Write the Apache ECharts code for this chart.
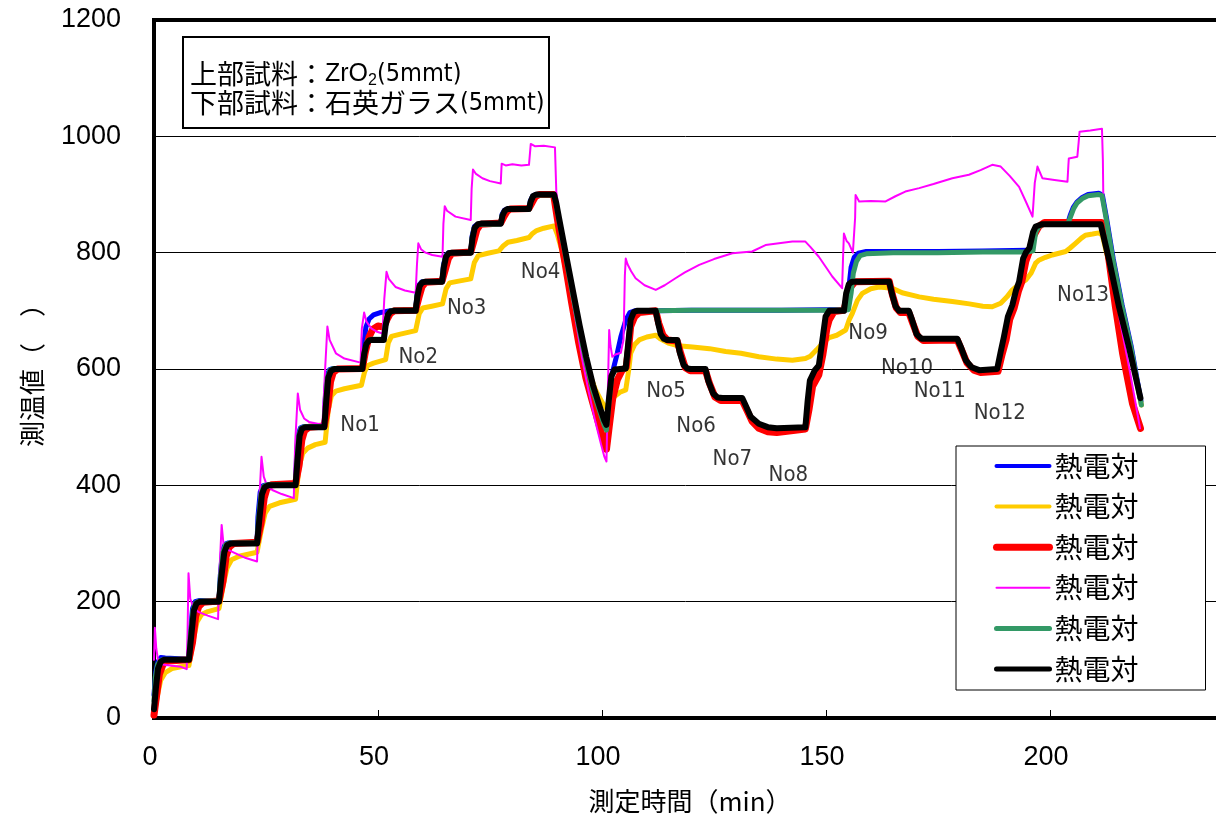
<!DOCTYPE html>
<html>
<head>
<meta charset="utf-8">
<script src="https://cdn.jsdelivr.net/npm/echarts@6/dist/echarts.min.js"></script>
<style>
  html, body { margin: 0; padding: 0; background: #ffffff; }
  #chart { width: 1216px; height: 827px; }
</style>
</head>
<body>
<div id="chart"></div>
<script>
// ---- axis settings ----
const xMin = 0, xMax = 250, xStep = 50;
const yMin = 0, yMax = 1200, yStep = 200;

// ---- thermocouple traces: [time (min), temperature] ----
const blueData = [
  [0,40],[0.4,80],[0.9,97],[1.5,104],[2.5,103],[7.8,101],
  [8.1,145],[8.6,188],[9.2,200],[10,202],[14.5,201],
  [14.8,245],[15.3,288],[15.9,299],[16.6,301],[23,301],
  [23.2,345],[23.7,388],[24.3,399],[25,401],[31.6,401],
  [31.8,445],[32.2,488],[32.7,499],[33.4,501],[38,501],
  [38.2,545],[38.6,588],[39.2,599],[40,601],[46.5,601],
  [46.8,640],[47.3,672],[48,686],[49,693],[50.5,697],[51.3,698],[52.5,700],[58.4,701],
  [58.7,728],[59.2,745],[59.8,750],[64.3,750],
  [64.6,778],[65.1,795],[65.7,800],[70.7,800],
  [71,828],[71.5,845],[72.2,849],[77.4,849],
  [77.7,866],[78.2,873],[78.8,875],[83.7,875],
  [84,889],[84.5,897],[85.2,900],[89.3,900],
  [89.8,883],[90.4,856],[92,790],[93.5,728],[95,667],[96.5,612],[98,564],[99.5,528],[100.5,504],[101,497],
  [101.5,545],[102.2,590],[103.4,627],[104.2,655],[105.3,684],[106.2,697],[107.3,700],
  [112,700],[120,701],[130,701],[140,701],[150,702],[154.6,702],
  [155.1,740],[155.6,775],[156.3,792],[157.2,799],[159,802],[165,802],[175,802],[185,803],[195,804],[196,806],
  [196.7,838],[197.4,846],[198.4,850],[204,851],
  [204.5,864],[205.2,878],[206,887],[207.2,895],[208.5,900],[210.9,902],[211.7,899],
  [212.6,860],[214.1,790],[216.1,710],[218.1,640],[220.3,545]
];

const yellowData = [
  [0,5],[0.8,40],[1.5,65],[2.5,78],[4,85],[6,88],[7.8,90],
  [8.8,135],[9.6,165],[10.6,178],[12,183],[14.5,188],
  [15.5,230],[16.3,258],[17.3,272],[19,278],[23,285],
  [24,325],[24.8,352],[25.8,364],[28,370],[31.6,376],
  [32.4,432],[33.2,455],[34.3,464],[36,470],[38.2,474],
  [38.9,530],[39.6,554],[40.6,562],[42.5,566],[46.3,572],
  [47,595],[47.7,606],[49,610],[51.7,616],
  [52.3,645],[53,656],[55,660],[58.4,666],
  [59.2,695],[60,705],[62,708],[64.4,712],
  [65.2,738],[66,748],[68,751],[70.7,755],
  [71.5,783],[72.4,795],[74.5,799],[77,803],
  [78,812],[79,818],[81,821],[83.7,826],
  [84.5,833],[85.4,838],[87,842],[89.3,846],
  [90,832],[91,805],[92.5,750],[94,690],[95.5,640],[97,597],[98.5,565],[100,543],[101.2,530],
  [102,535],[102.7,552],[104,560],[105.3,564],
  [106,600],[106.4,627],[107.3,642],[108.3,650],[110,655],[112,658],
  [113,652],[115,644],[117,640],[120.2,638],[124,635],[127.6,630],[131,627],[135,621],[139,617],[142.5,615],[145.4,618],
  [146.5,622],[147.9,633],[149.3,645],[150.7,654],[152.4,658],[154.4,667],
  [155.2,685],[155.9,696],[157,718],[158.1,730],[160,738],[161.8,741],[164.8,739],[167,731],[170.8,724],[174,720],[178.2,716],[182,712],[185,708],[187.1,707],
  [189,713],[190.4,724],[191.6,736],[193,745],[194.6,753],[195.8,765],[196.8,782],[197.5,787],[199,792],[200.5,796],[203.5,802],
  [204.5,808],[205.7,816],[207,825],[207.9,830],[209.5,832],[210.9,834],
  [211.7,830],[212.6,800],[214,760],[216,700],[218,630],[220.4,538]
];

const redData = [
  [0,5],[0.6,40],[1.2,75],[2,92],[3,98],[7.8,100],
  [8.6,130],[9.3,175],[10,192],[11,199],[14.5,201],
  [15.4,235],[16.1,278],[16.8,294],[17.8,300],[23,302],
  [23.9,335],[24.6,378],[25.2,394],[26.2,401],[31.6,403],
  [32.4,435],[33,478],[33.6,494],[34.6,500],[38,502],
  [38.8,535],[39.4,578],[40,594],[41,600],[46.5,601],
  [47.2,630],[48,655],[48.8,668],[50,674],[51.3,672],
  [52,685],[52.7,695],[53.6,700],[58.4,701],
  [59.1,722],[59.8,741],[60.6,749],[64.3,751],
  [65,770],[65.7,790],[66.5,799],[70.7,801],
  [71.4,820],[72.1,840],[72.9,849],[77.4,851],
  [78.1,862],[78.8,871],[79.5,875],[83.7,876],
  [84.4,886],[85.1,896],[86,900],[89.2,900],
  [89.6,880],[90.2,850],[91.8,780],[93.2,715],[94.8,645],[96.4,585],[98,540],[99.5,500],[100.6,470],[101,462],
  [101.6,500],[102.4,550],[103.4,581],[104.5,598],[105.4,603],
  [106,640],[106.4,673],[107.3,690],[108.3,697],[112,700],
  [112.7,678],[113.6,658],[114.6,650],[116.8,648],
  [117.6,626],[118.6,602],[119.7,597],[123.1,597],
  [124,575],[125.2,552],[126.5,546],[131.3,546],
  [132.4,528],[133.5,510],[135,498],[137,492],[139,491],[145.4,497],
  [146.2,530],[147,570],[148.4,590],[149.3,625],[150.2,670],[150.7,684],[151.8,699],[154,701],
  [154.8,725],[155.6,742],[156.5,750],[164.1,751],
  [164.8,728],[165.7,705],[166.6,697],[168.5,697],
  [169.3,680],[170.5,656],[171.7,649],[179.3,650],
  [180.3,632],[181.5,610],[183,598],[184.5,594],[188.4,596],
  [189.3,625],[190.2,650],[191,685],[192,705],[193,735],[193.7,750],[194.6,785],[195.3,800],[196.3,828],[197.5,845],[198.8,852],[211.5,852],
  [212.4,830],[214.6,707],[216.2,627],[218.4,541],[220.2,498]
];

const magentaData = [
  [0,100],[0.2,155],[0.5,120],[1,95],[2,92],[4,90],[6,88],[7.3,84],
  [7.5,150],[7.7,249],[8.1,205],[8.8,190],[10,182],[12,176],[14.3,170],
  [14.6,250],[15.1,332],[15.5,300],[16.3,290],[18.2,283],[20.5,275],[23,269],
  [23.4,360],[24,449],[24.5,415],[25.2,400],[26.4,392],[28.5,385],[31.2,378],
  [31.5,470],[32.1,558],[32.6,530],[33.5,515],[34.6,509],[37.6,504],
  [38.2,600],[38.7,673],[39.2,650],[40.6,627],[42.5,618],[46.1,611],
  [46.4,670],[46.9,697],[47.4,682],[48.5,670],[49.8,664],[51,661],
  [51.4,720],[51.9,767],[52.4,755],[53.9,741],[56,735],[58.4,731],
  [58.7,780],[59,816],[59.6,806],[60.6,800],[62.1,796],[64.4,793],
  [64.6,850],[64.9,880],[65.4,872],[67.3,862],[70.7,856],
  [70.9,910],[71.2,943],[71.8,936],[73.3,928],[75,923],[77.4,919],
  [77.6,953],[78.5,950],[80,952],[82,950],[83.7,951],
  [84.1,987],[85,983],[87,984],[89.5,981],
  [89.8,905],[91,835],[92.5,760],[94,690],[95.5,620],[97,562],[98.5,510],[99.8,470],[100.5,450],[101,441],
  [101.3,560],[101.6,667],[101.9,640],[102.3,621],[103,625],[104.2,628],[104.8,650],
  [105.1,760],[105.3,790],[105.7,780],[106.5,768],[107.5,756],[109.5,744],[112,736],[114,744],[116.4,756],[118.5,766],[121.7,779],[125,789],[129.1,799],[133.5,802],[136.5,813],[139.5,816],[142.5,819],[145.4,819],
  [146.5,810],[148.4,793],[150,775],[151.4,759],[153.6,739],
  [153.8,790],[154,833],[154.6,820],[155.1,816],[156,800],[156.3,799],
  [156.5,860],[156.6,899],[157.4,888],[160,889],[163.3,888],[165.5,897],[167.7,905],[170.8,911],[174,918],[178.2,928],[181.9,934],[184.5,942],[187.1,951],[189,948],[191,932],[193.1,913],[194.6,888],[196.1,862],
  [196.6,920],[197.2,948],[198.3,928],[201,925],[203.9,922],
  [204.1,950],[204.2,962],[206.1,965],
  [206.4,990],[206.6,1008],[209,1010],[211.6,1013],
  [211.8,960],[211.9,896],[212.8,850],[213.8,787],[215.6,684],[217.9,593],[220.1,498]
];

const greenData = [
  [0,30],[0.3,70],[0.8,92],[1.5,99],[2.2,101],[7.8,101],
  [8.1,140],[8.7,185],[9.3,198],[10,201],[14.5,201],
  [14.8,240],[15.4,285],[16,298],[16.8,301],[23,301],
  [23.3,340],[23.9,385],[24.5,398],[25.2,401],[31.6,401],
  [31.9,440],[32.3,485],[32.8,498],[33.5,501],[38,501],
  [38.3,540],[38.7,585],[39.3,598],[40,601],[46.5,601],
  [46.8,625],[47.3,643],[47.9,649],[48.5,651],[51.3,651],
  [51.6,675],[52.1,693],[52.7,699],[53.4,701],[58.4,701],
  [58.7,725],[59.2,743],[59.8,749],[60.5,750],[64.3,750],
  [64.6,775],[65.1,793],[65.7,799],[66.4,800],[70.7,800],
  [71,825],[71.5,843],[72.2,848],[72.9,849],[77.4,849],
  [77.7,864],[78.2,871],[78.8,874],[83.7,874],
  [84,887],[84.5,896],[85.2,899],[89.3,899],
  [89.8,882],[90.4,855],[92,788],[93.5,726],[95,665],[96.5,610],[98,562],[99.5,527],[100.5,503],[101,495],
  [101.5,540],[102.1,585],[102.8,598],[105.3,601],
  [105.8,640],[106.4,685],[107.1,698],[107.8,700],
  [112,700],[120,701],[130,701],[140,701],[150,701],[155,702],
  [155.6,730],[156.1,765],[156.8,785],[157.6,795],[159,798],[165,800],[175,800],[185,801],[195,801],[196.2,803],
  [196.8,835],[197.5,845],[198.5,849],[204,850],
  [204.6,862],[205.3,876],[206,885],[207.2,893],[208.5,898],[210.9,900],[211.6,898],
  [212.5,860],[214,790],[216,710],[218,640],[220.4,538]
];

const blackData = [
  [0,15],[0.4,50],[0.9,85],[1.5,97],[2.2,100],[7.8,100],
  [8.3,140],[8.9,185],[9.5,197],[10.3,200],[14.5,200],
  [15,240],[15.7,285],[16.3,297],[17.1,300],[23,300],
  [23.5,340],[24.1,385],[24.7,397],[25.5,400],[31.6,400],
  [32,440],[32.5,485],[33,497],[33.8,500],[38,500],
  [38.4,540],[38.9,585],[39.5,597],[40.3,600],[46.5,600],
  [46.9,625],[47.4,643],[48,649],[48.6,650],[51.3,650],
  [51.7,675],[52.2,693],[52.8,699],[53.5,700],[58.4,700],
  [58.8,725],[59.3,743],[59.9,749],[60.6,750],[64.3,750],
  [64.7,775],[65.2,793],[65.8,799],[66.5,800],[70.7,800],
  [71.1,825],[71.6,843],[72.3,849],[73,850],[77.4,850],
  [77.8,864],[78.3,872],[78.9,875],[83.7,875],
  [84.1,888],[84.6,897],[85.3,900],[89.3,900],
  [89.8,885],[90.4,860],[92,795],[93.5,735],[95,675],[96.5,620],[98,572],[99.5,535],[100.5,512],[101,504],
  [101.5,545],[102.1,588],[102.8,599],[105.3,601],
  [105.8,640],[106.4,685],[107.1,698],[107.8,700],[112,700],
  [112.5,680],[113.1,660],[113.8,652],[114.5,650],[116.8,650],
  [117.3,630],[118.2,607],[119,601],[119.8,600],[123.1,600],
  [123.7,580],[124.8,558],[125.8,551],[126.9,550],[131.3,550],
  [132.2,535],[133.2,518],[135,506],[137,500],[139,498],[145.4,500],
  [145.9,545],[146.4,580],[147.5,598],[148.4,606],[149.2,650],[149.9,690],[150.7,700],[154,700],
  [154.5,730],[155.1,746],[155.8,750],[164.1,750],
  [164.7,730],[165.5,708],[166.3,700],[168.5,700],
  [169.2,685],[170.2,660],[171.3,652],[179.3,652],
  [180.2,636],[181.2,615],[182.5,603],[184.2,598],[188.2,600],
  [189,630],[189.7,655],[190.6,690],[191.6,710],[192.4,735],[193.1,750],[194,790],[194.6,800],[195.4,808],[196.2,835],[196.8,845],[198.3,849],[211.3,849],
  [212.2,820],[213.2,787],[215.4,707],[217.6,638],[220.2,550]
];

// ---- step annotations ----
const stepNames = ['No1','No2','No3','No4','No5','No6','No7','No8','No9','No10','No11','No12','No13'];
const stepX = [46.0, 59.0, 69.8, 86.3, 114.3, 121.0, 129.1, 141.6, 159.4, 168.1, 175.4, 188.8, 207.4];
const stepY = [504, 620, 704, 766, 561, 502, 445, 418, 661, 601, 561, 524, 727];

// ---- text ----
const legendText = '熱電対';
const xTitle = '測定時間（min）';
const yTitle = '測温値（　）';
const upperLabel = '上部試料：';
const upperMaterial = 'ZrO';
const upperSub = '2';
const thickness = '(5mmt)';
const lowerLabel = '下部試料：';
const lowerMaterial = '石英ガラス';

const traces = [
  { name: 'TC1', data: blueData,    color: '#0000FF', width: 5, legendWidth: 4 },
  { name: 'TC2', data: yellowData,  color: '#FFCC00', width: 5, legendWidth: 4 },
  { name: 'TC3', data: redData,     color: '#FF0000', width: 7, legendWidth: 7 },
  { name: 'TC4', data: magentaData, color: '#FF00FF', width: 2, legendWidth: 2 },
  { name: 'TC5', data: greenData,   color: '#339966', width: 5, legendWidth: 5 },
  { name: 'TC6', data: blackData,   color: '#000000', width: 6, legendWidth: 5 }
];

const cjk = "'Noto Sans CJK JP', 'Noto Sans CJK SC', sans-serif";
const latin = "'Liberation Sans', Arial, sans-serif";
const narrow = "'Liberation Sans Narrow', 'DejaVu Sans Condensed', 'Liberation Sans', sans-serif";

const chart = echarts.init(document.getElementById('chart'), null, { renderer: 'canvas' });

const lineSeries = traces.map(t => ({
  name: t.name,
  type: 'line',
  data: t.data,
  showSymbol: false,
  symbol: 'none',
  smooth: false,
  color: t.color,
  lineStyle: { color: t.color, width: t.width, cap: 'round', join: 'round' },
  emphasis: { disabled: true },
  z: 2
}));

const labelSeries = {
  name: 'steps',
  type: 'scatter',
  symbolSize: 0,
  silent: true,
  data: stepNames.map((n, i) => ({ name: n, value: [stepX[i], stepY[i]] })),
  label: {
    show: true,
    position: 'inside',
    formatter: '{b}',
    color: '#000',
    fontSize: 22,
    fontFamily: narrow
  },
  z: 5
};

chart.setOption({
  animation: false,
  backgroundColor: '#ffffff',
  grid: {
    left: 154, top: 20, width: 1120, height: 698,
    outerBoundsMode: 'none',
    containLabel: false,
    show: true,
    borderColor: '#000',
    borderWidth: 4,
    backgroundColor: 'transparent'
  },
  xAxis: {
    type: 'value',
    min: xMin, max: xMax, interval: xStep,
    name: xTitle,
    nameLocation: 'middle',
    nameGap: 70,
    nameTextStyle: { fontFamily: cjk, fontSize: 26, color: '#000', padding: [0, 48, 0, 0] },
    axisLine: { show: false },
    axisTick: { show: true, inside: true, length: 8, lineStyle: { color: '#000', width: 1 } },
    axisLabel: { fontFamily: latin, fontSize: 27, color: '#000', margin: 26, padding: [0, 8, 0, 0] },
    splitLine: { show: false }
  },
  yAxis: {
    type: 'value',
    min: yMin, max: yMax, interval: yStep,
    name: yTitle,
    nameLocation: 'middle',
    nameRotate: 90,
    nameGap: 109,
    nameTextStyle: { fontFamily: cjk, fontSize: 26, color: '#000' },
    axisLine: { show: false },
    axisTick: { show: true, inside: true, length: 6, lineStyle: { color: '#000', width: 1 } },
    axisLabel: {
      fontFamily: latin, fontSize: 27, color: '#000', margin: 33, padding: [6, 0, 0, 0],
      formatter: v => String(v)
    },
    splitLine: { show: true, lineStyle: { color: '#000', width: 1 } }
  },
  legend: {
    orient: 'vertical',
    left: 956,
    top: 446,
    padding: [6, 67, 7, 37],
    itemWidth: 53,
    itemHeight: 14,
    itemGap: 12.6,
    backgroundColor: '#ffffff',
    borderColor: '#000',
    borderWidth: 1,
    selectedMode: false,
    formatter: () => legendText,
    textStyle: { fontFamily: cjk, fontSize: 28, color: '#000' },
    data: traces.map(t => ({
      name: t.name,
      itemStyle: { opacity: 0 },
      lineStyle: { color: t.color, width: t.legendWidth, cap: 'round' }
    }))
  },
  graphic: [
    {
      type: 'group',
      left: 182,
      top: 36,
      z: 10,
      children: [
        {
          type: 'rect',
          shape: { x: 0, y: 0, width: 366, height: 91 },
          style: { fill: '#ffffff', stroke: '#000000', lineWidth: 2 }
        },
        {
          type: 'text',
          x: 7, y: 37,
          style: {
            text: '{c|' + upperLabel + '}{l|' + upperMaterial + '}{s|' + upperSub + '}{n|' + thickness + '}',
            verticalAlign: 'middle',
            rich: {
              c: { fontFamily: cjk, fontSize: 27, lineHeight: 30, fill: '#000' },
              l: { fontFamily: latin, fontSize: 25, lineHeight: 30, fill: '#000' },
              s: { fontFamily: latin, fontSize: 16, lineHeight: 16, verticalAlign: 'bottom', fill: '#000' },
              n: { fontFamily: narrow, fontSize: 25, lineHeight: 30, fill: '#000' }
            }
          }
        },
        {
          type: 'text',
          x: 7, y: 66,
          style: {
            text: '{c|' + lowerLabel + lowerMaterial + '}{n|' + thickness + '}',
            verticalAlign: 'middle',
            rich: {
              c: { fontFamily: cjk, fontSize: 27, lineHeight: 30, fill: '#000' },
              n: { fontFamily: narrow, fontSize: 25, lineHeight: 30, fill: '#000' }
            }
          }
        }
      ]
    }
  ],
  series: lineSeries.concat([labelSeries])
});
</script>
</body>
</html>
